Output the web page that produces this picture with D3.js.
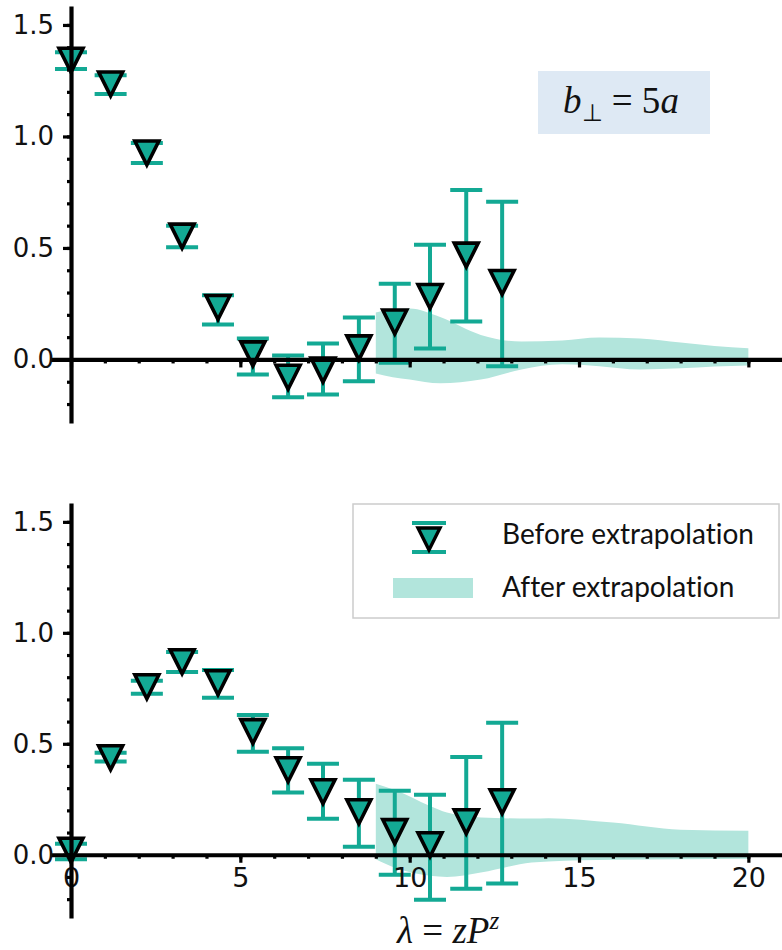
<!DOCTYPE html>
<html>
<head>
  <script src="https://d3js.org/d3.v7.min.js"></script>
  <style>
    body { margin: 0; background: #fff; }
  </style>
</head>
<body>
<div id="chart"></div>
<script>
// lambda = z * P^z positions of the lattice points
const lambda = [0, 1.17, 2.24, 3.28, 4.34, 5.37, 6.41, 7.44, 8.5, 9.56, 10.6, 11.67, 12.73];

// top panel (real part), value with lower / upper error
const topVal = [1.342, 1.235, 0.926, 0.553, 0.233, 0.025, -0.08, -0.048, 0.052, 0.168, 0.282, 0.468, 0.345];
const topLo  = [1.302, 1.19, 0.881, 0.503, 0.157, -0.067, -0.17, -0.157, -0.098, -0.015, 0.049, 0.17, -0.03];
const topHi  = [1.378, 1.275, 0.971, 0.6, 0.288, 0.094, 0.018, 0.072, 0.188, 0.34, 0.514, 0.76, 0.707];

// bottom panel (imaginary part)
const botVal = [0.02, 0.437, 0.757, 0.87, 0.775, 0.555, 0.383, 0.284, 0.194, 0.104, 0.045, 0.149, 0.239];
const botLo  = [-0.02, 0.42, 0.725, 0.824, 0.707, 0.464, 0.28, 0.162, 0.036, -0.09, -0.203, -0.153, -0.13];
const botHi  = [0.05, 0.46, 0.784, 0.914, 0.833, 0.63, 0.48, 0.41, 0.338, 0.288, 0.27, 0.44, 0.595];

// extrapolated bands
const topBandLam = [9.0, 9.5, 10.0, 10.9, 12.1, 13.3, 14.5, 15.6, 16.8, 18.0, 19.0, 20.0];
const topBandHi  = [0.21, 0.225, 0.228, 0.19, 0.11, 0.08, 0.085, 0.098, 0.094, 0.076, 0.06, 0.05];
const topBandLo  = [-0.063, -0.08, -0.09, -0.107, -0.09, -0.045, -0.022, -0.03, -0.045, -0.04, -0.032, -0.027];

const botBandLam = [9.0, 9.6, 10.6, 11.1, 12.1, 13.6, 14.1, 16.0, 18.0, 20.0];
const botBandHi  = [0.32, 0.29, 0.22, 0.19, 0.168, 0.163, 0.165, 0.145, 0.113, 0.108];
const botBandLo  = [-0.02, -0.06, -0.095, -0.1, -0.08, -0.035, -0.03, -0.022, -0.02, -0.018];

const yMajor = [0, 0.5, 1.0, 1.5];
const yMinor = d3.range(-2, 16).map(d => d / 10);
const xMajor = [0, 5, 10, 15, 20];
const xMinor = d3.range(1, 21);

const W = 782, H = 950;
const teal = "#13a994";
const band = "#b2e5dc";

const svg = d3.select("#chart").append("svg")
  .attr("width", W).attr("height", H);

const x = d3.scaleLinear().domain([-0.62, 21.2]).range([50, 789]);

function panel(top, bottom, vals, lo, hi, bLam, bHi, bLo, showLabels) {
  const y = d3.scaleLinear().domain([-0.285, 1.585]).range([bottom, top]);
  const g = svg.append("g");

  // band
  const bandData = bLam.map((l, i) => ({ l: l, hi: bHi[i], lo: bLo[i] }));
  g.append("path")
    .datum(bandData)
    .attr("fill", band)
    .attr("d", d3.area()
      .x(d => x(d.l))
      .y0(d => y(d.lo))
      .y1(d => y(d.hi))
      .curve(d3.curveMonotoneX));

  // error bars
  const eb = g.append("g").attr("stroke", teal).attr("stroke-width", 4);
  lambda.forEach((l, i) => {
    eb.append("line").attr("x1", x(l)).attr("x2", x(l)).attr("y1", y(lo[i])).attr("y2", y(hi[i]));
    [lo[i], hi[i]].forEach(v => {
      eb.append("line").attr("x1", x(l) - 16).attr("x2", x(l) + 16).attr("y1", y(v)).attr("y2", y(v));
    });
  });

  // markers
  const s = 12;
  g.append("g").selectAll("path")
    .data(lambda)
    .join("path")
    .attr("d", (l, i) => {
      const cx = x(l), cy = y(vals[i]);
      return `M${cx - s},${cy - s}L${cx + s},${cy - s}L${cx},${cy + s}Z`;
    })
    .attr("fill", teal)
    .attr("stroke", "#000")
    .attr("stroke-width", 3.6)
    .attr("stroke-linejoin", "miter");

  // x axis through zero
  const gx = g.append("g").attr("transform", `translate(0,${y(0)})`);
  gx.call(d3.axisBottom(x).tickValues(xMinor).tickSize(4).tickSizeOuter(0).tickFormat(""));
  gx.append("g").call(d3.axisBottom(x).tickValues(xMajor).tickSize(8).tickSizeOuter(0)
      .tickFormat(showLabels ? d3.format("d") : ""))
    .call(a => a.select(".domain").remove())
    .call(a => a.selectAll("text")
      .attr("y", 13)
      .attr("fill", "#111")
      .style("font-family", "'DejaVu Sans'")
      .style("font-size", "27px"));
  gx.select(".domain").attr("stroke-width", 4.2);
  gx.selectAll(".tick line").attr("stroke-width", 3.2);

  // y axis through zero
  const gy = g.append("g").attr("transform", `translate(${x(0)},0)`);
  gy.call(d3.axisLeft(y).tickValues(yMinor).tickSize(4).tickSizeOuter(0).tickFormat(""));
  gy.append("g").call(d3.axisLeft(y).tickValues(yMajor).tickSize(8).tickSizeOuter(0)
      .tickFormat(d3.format(".1f")))
    .call(a => a.select(".domain").remove())
    .call(a => a.selectAll("text")
      .attr("x", -17)
      .attr("fill", "#111")
      .style("font-family", "'DejaVu Sans'")
      .style("font-size", "26px"));
  gy.select(".domain").attr("stroke-width", 4.2);
  gy.selectAll(".tick line").attr("stroke-width", 3.2);
  return y;
}

panel(6, 423, topVal, topLo, topHi, topBandLam, topBandHi, topBandLo, false);
panel(503, 918, botVal, botLo, botHi, botBandLam, botBandHi, botBandLo, true);

// b_perp label box
svg.append("rect")
  .attr("x", 538).attr("y", 71).attr("width", 172).attr("height", 63)
  .attr("fill", "#dee9f4");
const bt = svg.append("text")
  .attr("x", 563).attr("y", 113)
  .style("font-family", "Liberation Serif")
  .style("font-size", "37px")
  .attr("fill", "#111");
bt.append("tspan").attr("font-style", "italic").text("b");
bt.append("tspan").attr("font-size", "24px").attr("dy", 8).text("⊥");
bt.append("tspan").attr("dy", -8).text(" = 5");
bt.append("tspan").attr("font-style", "italic").text("a");

// legend
const lg = svg.append("g");
lg.append("rect")
  .attr("x", 353).attr("y", 504).attr("width", 426).attr("height", 114)
  .attr("fill", "#fff").attr("stroke", "#cccccc").attr("stroke-width", 1.5);
const lx = 429, ly = 538;
lg.append("line").attr("x1", lx - 17).attr("x2", lx + 17).attr("y1", 523).attr("y2", 523)
  .attr("stroke", teal).attr("stroke-width", 4);
lg.append("line").attr("x1", lx - 17).attr("x2", lx + 17).attr("y1", 552).attr("y2", 552)
  .attr("stroke", teal).attr("stroke-width", 4);
lg.append("path")
  .attr("d", `M${lx - 11},${ly - 10}L${lx + 11},${ly - 10}L${lx},${ly + 12}Z`)
  .attr("fill", teal).attr("stroke", "#000").attr("stroke-width", 3.4);
lg.append("rect").attr("x", 393).attr("y", 578).attr("width", 80).attr("height", 20)
  .attr("fill", band);
lg.selectAll("text.leg")
  .data(["Before extrapolation", "After extrapolation"])
  .join("text")
  .attr("class", "leg")
  .attr("x", 502)
  .attr("y", (d, i) => i === 0 ? 544 : 597)
  .style("font-family", "Lato")
  .style("font-size", "28px")
  .style("font-variant-ligatures", "none")
  .attr("fill", "#111")
  .text(d => d);

// x axis label
const xl = svg.append("text")
  .attr("x", 397).attr("y", 943)
  .style("font-family", "Liberation Serif")
  .style("font-size", "37px")
  .attr("fill", "#111");
xl.append("tspan").attr("font-style", "italic").text("λ");
xl.append("tspan").text(" = ");
xl.append("tspan").attr("font-style", "italic").text("zP");
xl.append("tspan").attr("font-style", "italic").attr("font-size", "25px").attr("dy", -14).text("z");
</script>
</body>
</html>
